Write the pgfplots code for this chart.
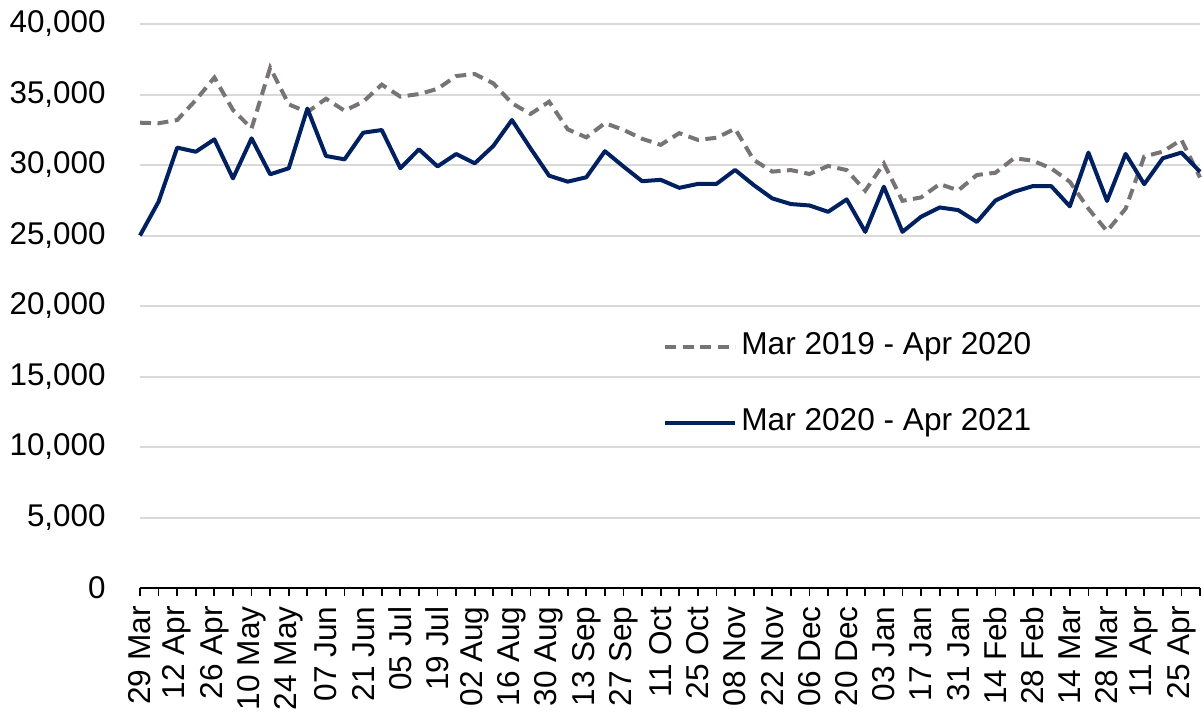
\documentclass[border=0pt]{standalone}
\usepackage{fontspec}
\setmainfont{Liberation Sans}
\usepackage{pgfplots}
\usepackage{pgfplotstable}
\pgfplotsset{compat=1.18}
\definecolor{navy}{RGB}{0,32,96}
\definecolor{dgray}{RGB}{120,116,116}
\definecolor{gridc}{RGB}{217,217,217}
\pgfplotstableread{
x a b
0 33000 25000
1 32960 27400
2 33190 31230
3 34600 30940
4 36200 31820
5 33900 29050
6 32600 31890
7 36900 29340
8 34300 29770
9 33750 34000
10 34700 30640
11 33850 30400
12 34490 32290
13 35700 32480
14 34850 29770
15 35030 31110
16 35400 29900
17 36310 30780
18 36450 30120
19 35790 31350
20 34380 33190
21 33620 31180
22 34490 29240
23 32530 28820
24 31960 29130
25 32970 30980
26 32490 29890
27 31860 28850
28 31430 28950
29 32260 28380
30 31780 28660
31 31930 28660
32 32570 29650
33 30360 28580
34 29530 27630
35 29640 27230
36 29360 27130
37 29930 26680
38 29640 27560
39 28180 25260
40 30100 28460
41 27460 25260
42 27700 26330
43 28650 26990
44 28200 26800
45 29290 25960
46 29450 27480
47 30480 28100
48 30310 28500
49 29760 28500
50 28810 27070
51 26900 30880
52 25310 27450
53 26900 30790
54 30600 28640
55 30950 30480
56 31790 30880
57 29120 29520
}\data
\begin{document}
\begin{tikzpicture}
\begin{axis}[
  at={(70pt,61.5pt)}, anchor=south west,
  scale only axis, width=530pt, height=282pt,
  xmin=0, xmax=57, ymin=0, ymax=40000,
  clip=false,
  axis x line*=bottom, axis y line*=left,
  y axis line style={draw=none},
  x axis line style={black, line width=1pt, -},
  ytick={0,5000,...,40000},
  ymajorgrids, grid style={gridc, line width=1pt},
  ytick style={draw=none},
  xtick={0,2,...,56}, minor xtick={1,3,...,57},
  xticklabels={29 Mar,12 Apr,26 Apr,10 May,24 May,07 Jun,21 Jun,05 Jul,19 Jul,02 Aug,16 Aug,30 Aug,13 Sep,27 Sep,11 Oct,25 Oct,08 Nov,22 Nov,06 Dec,20 Dec,03 Jan,17 Jan,31 Jan,14 Feb,28 Feb,14 Mar,28 Mar,11 Apr,25 Apr},
  tick align=outside,
  major tick length=4pt, minor tick length=4pt,
  xtick style={black, line width=0.9pt},
  minor x tick style={black, line width=0.9pt},
  scaled y ticks=false,
  /pgf/number format/1000 sep={,},
  /pgf/number format/assume math mode=true,
  y tick label style={inner sep=0pt, xshift=-13pt, font=\fontsize{15.7}{18}\selectfont},
  xticklabel shift=5pt,
  x tick label style={rotate=90, anchor=east, inner sep=0pt, font=\fontsize{15.8}{19}\selectfont},
  legend style={at={(0.4934,0.461)}, anchor=north west, draw=none, fill=none,
    inner sep=0pt, row sep=19pt,
    nodes={inner sep=2pt, text height=11pt, text depth=4pt},
    font=\fontsize{15.8}{18}\selectfont},
  legend cell align=left,
  legend image code/.code={\draw[#1] (0pt,0pt) -- (35pt,0pt);},
]
\addplot[dgray, line width=2pt, dash pattern=on 5.5pt off 3.25pt] table[x=x,y=a] {\data};
\addlegendentry{Mar 2019 - Apr 2020}
\addplot[navy, line width=2pt, line join=round] table[x=x,y=b] {\data};
\addlegendentry{Mar 2020 - Apr 2021}
\end{axis}
\pgfresetboundingbox
\path[use as bounding box] (0,0) rectangle (601pt,355.5pt);
\end{tikzpicture}
\end{document}
